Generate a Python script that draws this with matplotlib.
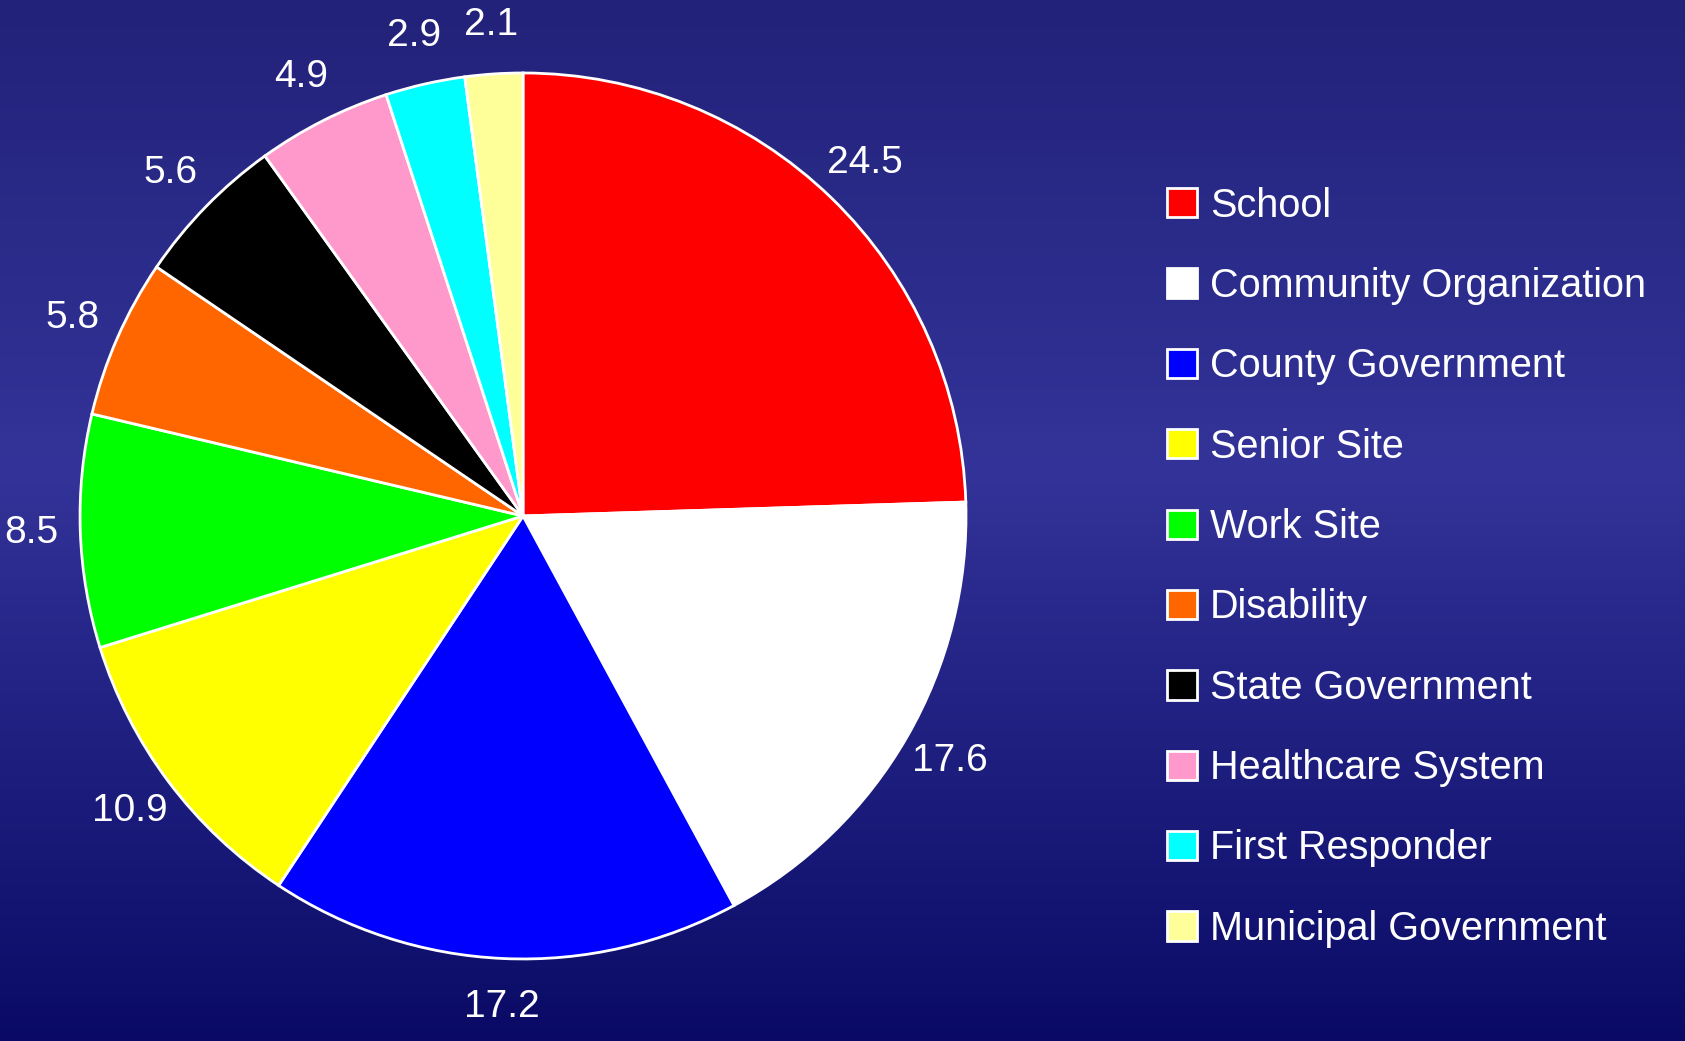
import numpy as np
import matplotlib
matplotlib.use("Agg")
import matplotlib.pyplot as plt
from matplotlib.colors import LinearSegmentedColormap

# data (percent)
categories = ["School", "Community Organization", "County Government", "Senior Site",
              "Work Site", "Disability", "State Government", "Healthcare System",
              "First Responder", "Municipal Government"]
values = [24.5, 17.6, 17.2, 10.9, 8.5, 5.8, 5.6, 4.9, 2.9, 2.1]
colors = ["#ff0000", "#ffffff", "#0000ff", "#ffff00", "#00ff00",
          "#ff6600", "#000000", "#ff99cc", "#00ffff", "#ffff99"]

plt.rcParams['font.family'] = ['Liberation Sans', 'DejaVu Sans']

fig = plt.figure(figsize=(16.85, 10.41), dpi=100)

# background gradient
bg = fig.add_axes([0, 0, 1, 1], zorder=-10)
cmap = LinearSegmentedColormap.from_list(
    "bg", [(0.0, "#22227a"), (0.45, "#333399"), (1.0, "#0a0a66")])
grad = np.linspace(0, 1, 256).reshape(-1, 1)
bg.imshow(grad, aspect="auto", cmap=cmap, extent=[0, 1, 1, 0])
bg.set_axis_off()

ax = fig.add_axes([0.0475, 0.0788, 0.5258, 0.8511])
wedges, texts = ax.pie(values, colors=colors, startangle=90, counterclock=False,
                       labels=[f"{v:.1f}" for v in values], labeldistance=1.11,
                       wedgeprops=dict(edgecolor="white", linewidth=2),
                       textprops=dict(color="white", fontsize=28, ha="center", va="center"))
ax.set_xlim(-1, 1)
ax.set_ylim(-1, 1)
ax.set_aspect("equal")
ax.set_axis_off()

leg = fig.legend(wedges, categories, loc="upper left", bbox_to_anchor=(0.683, 0.836),
                 frameon=False, fontsize=28.5, labelcolor="white",
                 handlelength=0.76, handleheight=0.76, handletextpad=0.33,
                 labelspacing=1.07, borderaxespad=0)

fig.savefig("out.png", dpi=100)
